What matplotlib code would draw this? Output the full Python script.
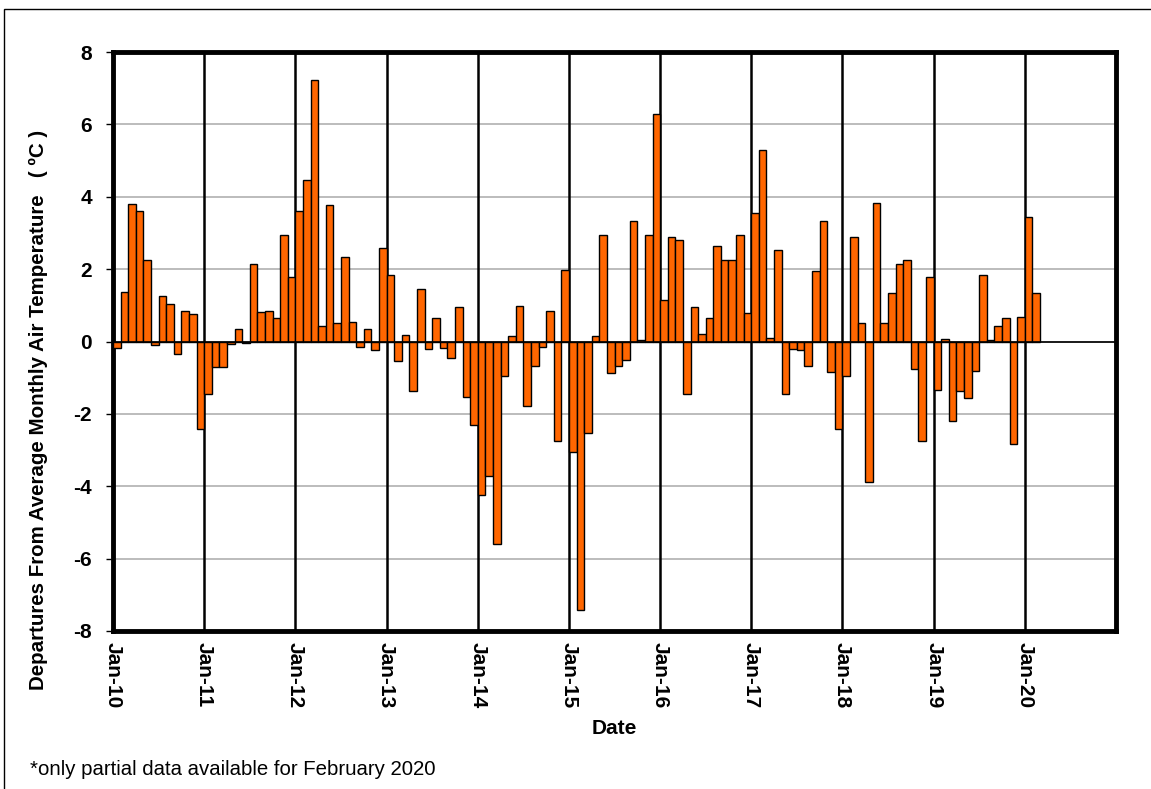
import matplotlib
matplotlib.use("Agg")
import matplotlib.pyplot as plt
from matplotlib.patches import Rectangle

plt.rcParams['font.family'] = ['Liberation Sans', 'DejaVu Sans']
plt.rcParams['axes.unicode_minus'] = False

# monthly departures, Jan 2010 .. Feb 2020 (deg C)
dep_2010 = [-0.17, 1.38, 3.80, 3.62, 2.24, -0.11, 1.25, 1.03, -0.35, 0.85, 0.75, -2.42]
dep_2011 = [-1.46, -0.71, -0.71, -0.07, 0.35, -0.04, 2.13, 0.82, 0.85, 0.64, 2.95, 1.78]
dep_2012 = [3.62, 4.47, 7.22, 0.43, 3.76, 0.50, 2.34, 0.53, -0.14, 0.35, -0.24, 2.59]
dep_2013 = [1.84, -0.53, 0.18, -1.38, 1.46, -0.21, 0.64, -0.18, -0.46, 0.96, -1.52, -2.31]
dep_2014 = [-4.23, -3.73, -5.61, -0.96, 0.14, 0.99, -1.78, -0.67, -0.14, 0.85, -2.74, 1.99]
dep_2015 = [-3.06, -7.42, -2.52, 0.14, 2.95, -0.88, -0.67, -0.50, 3.34, 0.05, 2.95, 6.29]
dep_2016 = [1.14, 2.88, 2.81, -1.46, 0.96, 0.21, 0.64, 2.63, 2.24, 2.24, 2.95, 0.78]
dep_2017 = [3.56, 5.29, 0.11, 2.52, -1.46, -0.21, -0.24, -0.67, 1.95, 3.34, -0.85, -2.42]
dep_2018 = [-0.96, 2.88, 0.50, -3.87, 3.83, 0.50, 1.35, 2.13, 2.24, -0.75, -2.74, 1.78]
dep_2019 = [-1.35, 0.07, -2.20, -1.38, -1.57, -0.82, 1.84, 0.03, 0.43, 0.64, -2.84, 0.67]
dep_2020 = [3.44, 1.35]

departures = (dep_2010 + dep_2011 + dep_2012 + dep_2013 + dep_2014 + dep_2015
              + dep_2016 + dep_2017 + dep_2018 + dep_2019 + dep_2020)
year_labels = ["Jan-10", "Jan-11", "Jan-12", "Jan-13", "Jan-14", "Jan-15",
               "Jan-16", "Jan-17", "Jan-18", "Jan-19", "Jan-20"]

fig = plt.figure(figsize=(11.51, 7.89), dpi=100)
ax = fig.add_axes([0.0982, 0.2003, 0.8714, 0.7337])

# frame around whole chart
fig.patches.append(Rectangle((0.0035, -0.01), 1.2, 0.998, transform=fig.transFigure,
                             fill=False, edgecolor='black', linewidth=1.0))

months = list(range(len(departures)))
ax.bar(months, departures, width=1.0, align='edge', color='#FF6600',
       edgecolor='black', linewidth=1.0, zorder=3)

ax.set_xlim(0, 132)
ax.set_ylim(-8, 8)
ax.set_yticks(range(-8, 9, 2))
ax.set_xticks([12 * i for i in range(len(year_labels))])
ax.set_xticklabels(year_labels, rotation=270, fontsize=15, fontweight='bold')
for t in ax.get_yticklabels():
    t.set_fontsize(15)
    t.set_fontweight('bold')

# horizontal grey grid, black year lines, zero line
ax.yaxis.grid(True, color='#b0b0b0', linewidth=1.2, zorder=0)
for yr in range(1, 11):
    ax.axvline(12 * yr, color='black', linewidth=1.8, zorder=2)
ax.axhline(0, color='black', linewidth=1.2, zorder=4)

for s in ax.spines.values():
    s.set_linewidth(3.5)
ax.tick_params(axis='y', direction='out', length=5, width=1, pad=10)
ax.tick_params(axis='x', length=0, pad=8)

ax.set_xlabel("Date", fontsize=15, fontweight='bold', labelpad=8)
ax.set_ylabel("Departures From Average Monthly Air Temperature   ( \u00baC )",
              fontsize=14.8, fontweight='bold')
ax.yaxis.set_label_coords(-0.065, 0.382)

fig.text(0.026, 0.018, "*only partial data available for February 2020", fontsize=14.7)

fig.savefig("out.png", dpi=100)
